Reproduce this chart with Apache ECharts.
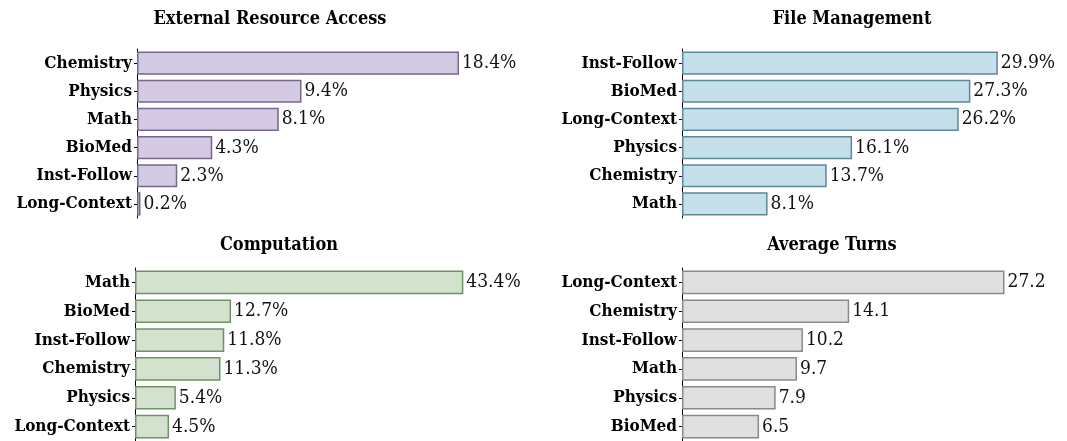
<!DOCTYPE html>
<html>
<head>
<meta charset="utf-8">
<script src="https://cdn.jsdelivr.net/npm/echarts@6/dist/echarts.min.js"></script>
<style>
html,body{margin:0;padding:0;background:#fff;}
#c{width:1067px;height:441px;}
</style>
</head>
<body>
<div id="c"></div>
<script>
// ---- data ----
const titles = ["External Resource Access", "File Management", "Computation", "Average Turns"];
const extCats = ["Chemistry", "Physics", "Math", "BioMed", "Inst-Follow", "Long-Context"];
const extVals = [18.4, 9.4, 8.1, 4.3, 2.3, 0.2];
const fileCats = ["Inst-Follow", "BioMed", "Long-Context", "Physics", "Chemistry", "Math"];
const fileVals = [29.9, 27.3, 26.2, 16.1, 13.7, 8.1];
const compCats = ["Math", "BioMed", "Inst-Follow", "Chemistry", "Physics", "Long-Context"];
const compVals = [43.4, 12.7, 11.8, 11.3, 5.4, 4.5];
const turnCats = ["Long-Context", "Chemistry", "Inst-Follow", "Math", "Physics", "BioMed"];
const turnVals = [27.2, 14.1, 10.2, 9.7, 7.9, 6.5];
const suffixes = ["%", "%", "%", ""];

// ---- layout / style ----
const panels = [
  {cats: extCats, vals: extVals, left: 137, top: 49, width: 350, height: 169, max: 20, fill: "#d4c9e3", border: "#76678f"},
  {cats: fileCats, vals: fileVals, left: 682, top: 49, width: 338, height: 169, max: 32, fill: "#c5e0ea", border: "#5e8798"},
  {cats: compCats, vals: compVals, left: 135, top: 268, width: 348, height: 174, max: 46, fill: "#d3e2cc", border: "#6e9166"},
  {cats: turnCats, vals: turnVals, left: 682, top: 268, width: 332, height: 174, max: 28, fill: "#e0e0e0", border: "#8a8a8a"}
];
const titlePos = [[265, 5], [847, 5], [274, 231], [827, 231]];
const serif = "'DejaVu Serif Condensed', 'DejaVu Serif', serif";

const option = {
  animation: false,
  backgroundColor: "#fff",
  title: titles.map((t, i) => ({
    text: t, left: titlePos[i][0], top: titlePos[i][1], textAlign: "center",
    textStyle: {fontFamily: serif, fontWeight: "bold", fontSize: 18, color: "#000"}
  })),
  grid: panels.map(p => ({left: p.left, top: p.top, width: p.width, height: p.height, containLabel: false})),
  xAxis: panels.map((p, i) => ({type: "value", gridIndex: i, min: 0, max: p.max, show: false})),
  yAxis: panels.map((p, i) => ({
    type: "category", gridIndex: i, data: p.cats, inverse: true,
    axisLine: {show: true, lineStyle: {color: "#000", width: 1}},
    axisTick: {show: true, length: 3, alignWithLabel: true, lineStyle: {color: "#000"}},
    axisLabel: {fontFamily: serif, fontWeight: "bold", fontSize: 17, color: "#000", margin: 5}
  })),
  series: panels.map((p, i) => ({
    type: "bar", xAxisIndex: i, yAxisIndex: i, data: p.vals,
    barCategoryGap: "18%",
    itemStyle: {color: p.fill, borderColor: p.border, borderWidth: 1.5},
    label: {show: true, position: "right", distance: 3, formatter: d => d.value + suffixes[i],
      fontFamily: serif, fontSize: 19, color: "#111"}
  }))
};
echarts.init(document.getElementById("c")).setOption(option);
</script>
</body>
</html>
